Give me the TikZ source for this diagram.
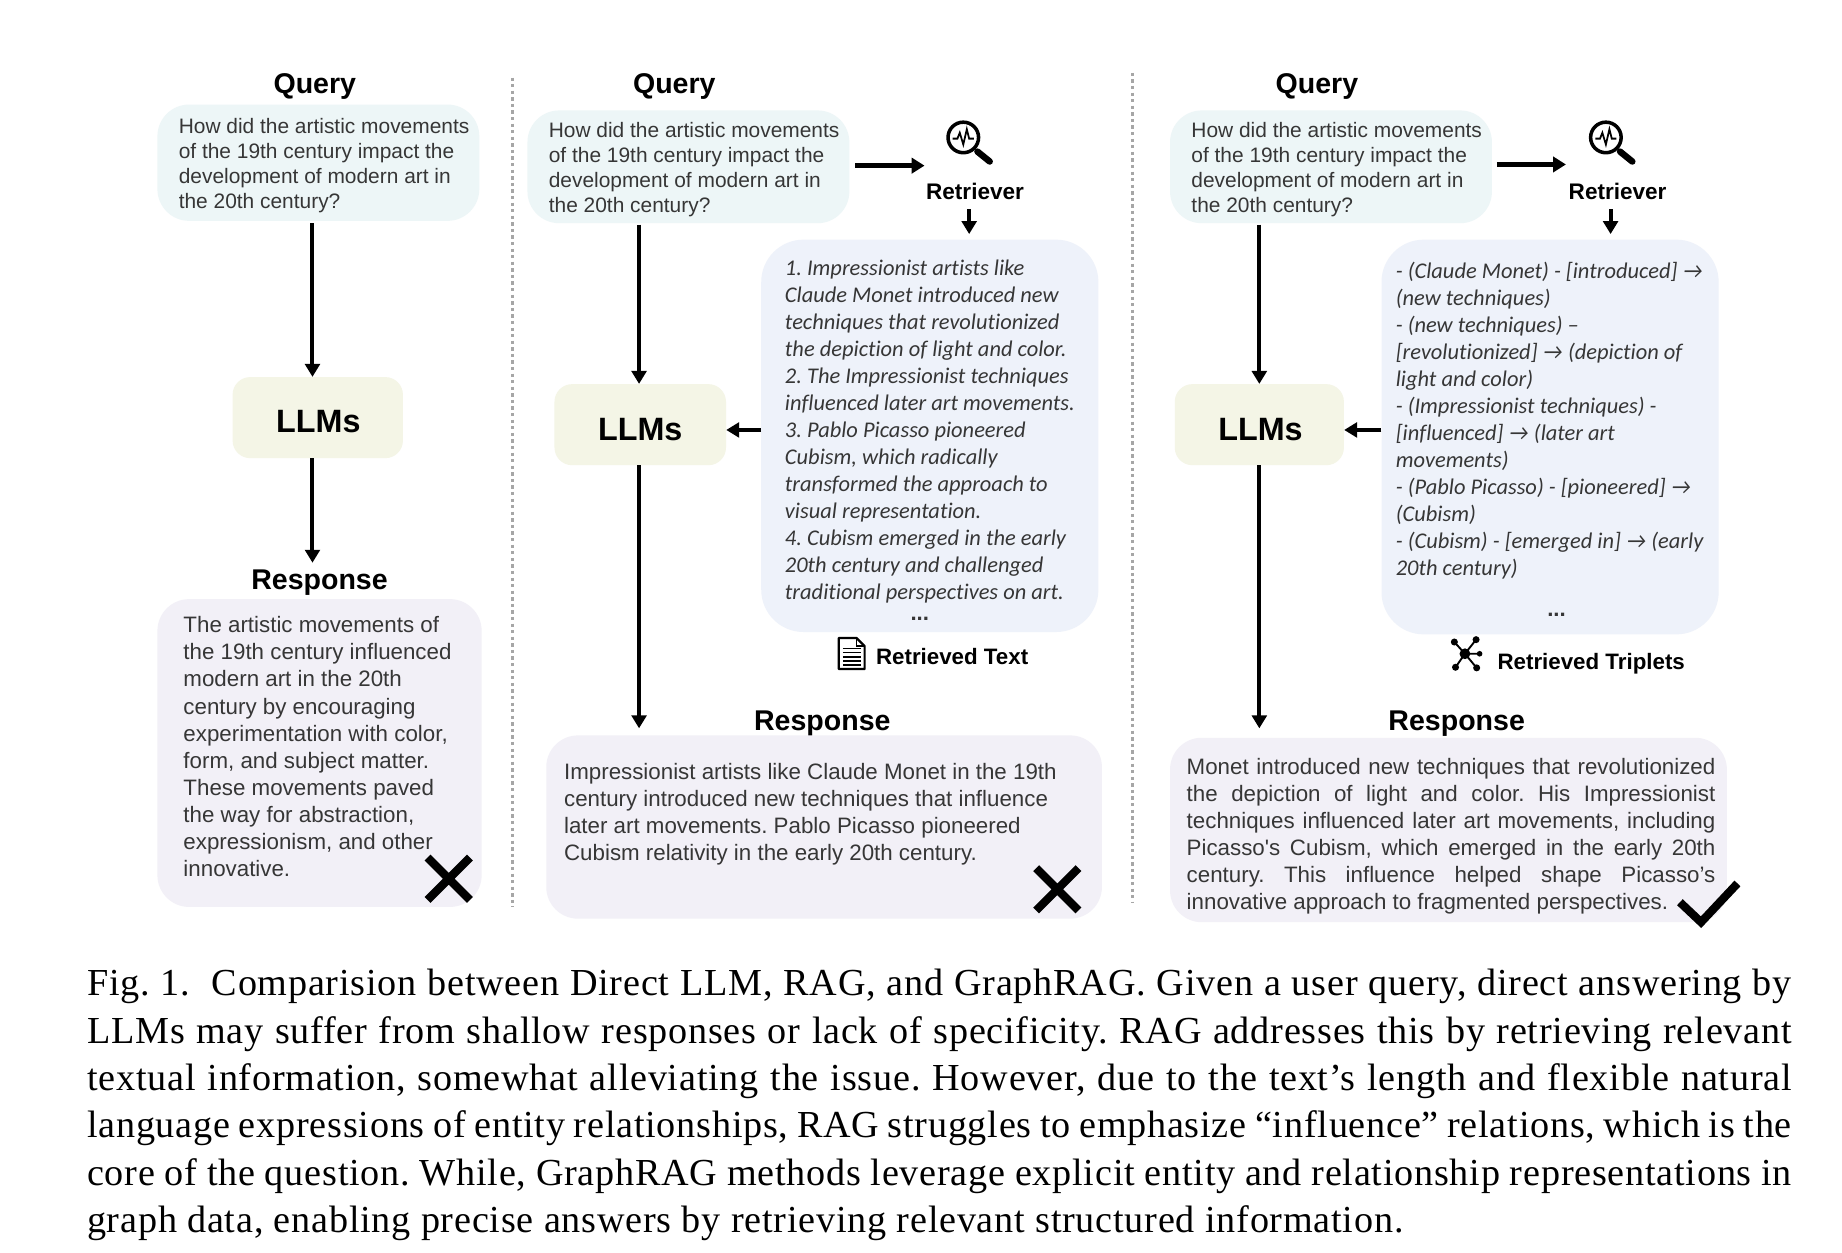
\documentclass[tikz,border=0pt]{standalone}
\usepackage{fontspec}
\usetikzlibrary{arrows.meta}
\setmainfont[LetterSpace=2]{Liberation Serif}
\newfontfamily\arial{Liberation Sans}
\newfontfamily\calib[Ligatures=NoCommon]{Carlito}
\AtBeginDocument{\frenchspacing}
\definecolor{qfill}{HTML}{EDF6F7}
\definecolor{lfill}{HTML}{F4F5E6}
\definecolor{tfill}{HTML}{EEF2FA}
\definecolor{rfill}{HTML}{F2F0F7}
\definecolor{ink}{HTML}{363636}
\tikzset{
  bx/.style={rectangle,inner sep=0pt,draw=none},
  qbox/.style={bx,fill=qfill,rounded corners=27pt,minimum width=274pt},
  lbox/.style={bx,fill=lfill,rounded corners=15pt,minimum height=69pt},
  tbox/.style={bx,fill=tfill,rounded corners=36pt,minimum width=287pt},
  rbox/.style={bx,fill=rfill,rounded corners=27pt},
  ttl/.style={inner sep=0pt,yshift=-2.6pt,font=\arial\bfseries\fontsize{24.3}{28}\selectfont,text=black},
  llm/.style={inner sep=0pt,font=\arial\bfseries\fontsize{27.5}{30}\selectfont,text=black},
  smalll/.style={inner sep=0pt,font=\arial\bfseries\fontsize{19}{22}\selectfont,text=black},
  retr/.style={inner sep=0pt,font=\arial\bfseries\fontsize{19.2}{24}\selectfont,text=black},
  qtxt/.style={inner sep=0pt,anchor=west,align=left,text=ink,font=\arial\fontsize{17.8}{21.3}\selectfont},
  rtxt/.style={inner sep=0pt,anchor=west,align=left,text=ink,font=\arial\fontsize{19}{23}\selectfont},
  itxt/.style={inner sep=0pt,anchor=west,align=left,text=ink,font=\calib\itshape\fontsize{19.1}{23}\selectfont},
  dots/.style={inner sep=0pt,text=ink,font=\arial\bfseries\fontsize{19}{20}\selectfont},
  arr/.style={line width=3.4pt,-{Triangle[width=12.5pt,length=11pt]}},
  arrb/.style={line width=4pt,-{Triangle[width=13pt,length=11pt]}},
  sepl/.style={line width=2.8pt,color=black!35,dash pattern=on 2.8pt off 2.8pt},
  xmark/.style={line width=7pt,line cap=butt,miter limit=10},
  icon/.style={line width=2.6pt,black},
}
\newcommand{\magicon}[2]{%
  \draw[icon,line width=3pt] (#1,#2) circle (13pt);
  \draw[black,line width=5.5pt,line cap=round] (#1+12,#2+12) -- (#1+22.5,#2+20.5);
  \draw[black,line width=1.5pt] (#1-9,#2+1) -- (#1-5,#2+1) -- (#1-3,#2-4) -- (#1,#2+6) -- (#1+3,#2-7) -- (#1+5,#2+1) -- (#1+9,#2+1);
}
\begin{document}
\begin{tikzpicture}[x=1pt,y=-1pt]
\useasboundingbox (0,0) rectangle (1568,1065.8);
\fill[white] (0,0) rectangle (1568,1065.8);
% separators
\coordinate (s1a) at (436,66); \coordinate (s1b) at (436,772);
\coordinate (s2a) at (964,62); \coordinate (s2b) at (964,768);
\draw[sepl] (s1a) -- (s1b);
\draw[sepl] (s2a) -- (s2b);

% ---------- panel 1
\node[ttl] (qt1) at (268,71) {Query};
\node[qbox,minimum height=99pt] (q1) at (271,138.5) {};
\node[qtxt] (q1t) at (152,141) {How did the artistic movements\\of the 19th century impact the\\development of modern art in\\the 20th century?};
\node[lbox,minimum width=145pt] (l1) at (270.5,355.5) {};
\node[llm] (l1t) at (271,359) {LLMs};
\node[ttl] (rt1) at (272,493) {Response};
\node[rbox,minimum width=276pt,minimum height=262pt] (r1) at (272,641) {};
\node[rtxt] (r1t) at (156,635.5) {The artistic movements of\\the 19th century influenced\\modern art in the 20th\\century by encouraging\\experimentation with color,\\form, and subject matter.\\These movements paved\\the way for abstraction,\\expressionism, and other\\innovative.};
\coordinate (a1) at (266,0);
\coordinate (e1) at (266,479);
\draw[arr] (q1.south -| a1) ++(0,2) -- (l1.north -| a1);
\draw[arr] (l1.south -| a1) -- (e1);
\draw[xmark] (364,730) -- (400,766) (400,730) -- (364,766);

% ---------- panel 2
\node[ttl] (qt2) at (574,71) {Query};
\node[qbox,minimum height=96pt] (q2) at (586,142) {};
\node[qtxt] (q2t) at (467,144) {How did the artistic movements\\of the 19th century impact the\\development of modern art in\\the 20th century?};
\node[lbox,minimum width=146pt] (l2) at (545,361.5) {};
\node[llm] (l2t) at (545,365.5) {LLMs};
\node[retr] (re2) at (830,163) {Retriever};
\magicon{820}{117}
\coordinate (m2) at (787,141);
\coordinate (a2) at (825,0);
\draw[arrb] (q2.east |- m2) ++(5,0) -- (m2);
\node[tbox,minimum height=334pt] (t2) at (791.5,371) {};
\draw[arr] (re2.south -| a2) ++(0,8) -- ++(0,21);
\node[itxt] (t2t) at (668,367) {1. Impressionist artists like\\Claude Monet introduced new\\techniques that revolutionized\\the depiction of light and color.\\2. The Impressionist techniques\\influenced later art movements.\\3. Pablo Picasso pioneered\\Cubism, which radically\\transformed the approach to\\visual representation.\\4. Cubism emerged in the early\\20th century and challenged\\traditional perspectives on art.};
\node[dots] (t2d) at (783,527) {...};
\coordinate (b2) at (0,366);
\draw[arr] (t2.west |- b2) -- (l2.east |- b2);
\coordinate (a3) at (544,0);
\coordinate (e2) at (544,620);
\draw[arr] (q2.south -| a3) ++(0,1) -- (l2.north -| a3);
\draw[arr] (l2.south -| a3) -- (e2);
% document icon
\draw[black,line width=1.9pt,line join=round] (714,543) -- (729,543) -- (736,550) -- (736,569.5) -- (714,569.5) -- cycle;
\draw[black,line width=1.4pt] (729,543) -- (729,550) -- (736,550);
\draw[black,line width=1.5pt] (717.5,552) -- (732.5,552) (717.5,555.5) -- (732.5,555.5) (717.5,559) -- (732.5,559) (717.5,562.5) -- (732.5,562.5) (717.5,566) -- (732.5,566);
\node[smalll] (rtx) at (810.5,558.5) {Retrieved Text};
\node[ttl] (rt2) at (700,613) {Response};
\node[rbox,minimum width=473pt,minimum height=156pt] (r2) at (701.5,704) {};
\node[rtxt] (r2t) at (480,693.3) {Impressionist artists like Claude Monet in the 19th\\century introduced new techniques that influence\\later art movements. Pablo Picasso pioneered\\Cubism relativity in the early 20th century.};
\draw[xmark] (882,739) -- (918,775) (918,739) -- (882,775);

% ---------- panel 3
\node[ttl] (qt3) at (1121,71) {Query};
\node[qbox,minimum height=96pt] (q3) at (1133,142) {};
\node[qtxt] (q3t) at (1014,144) {How did the artistic movements\\of the 19th century impact the\\development of modern art in\\the 20th century?};
\node[lbox,minimum width=144pt] (l3) at (1072,361.5) {};
\node[llm] (l3t) at (1073,365.5) {LLMs};
\node[retr] (re3) at (1377,163) {Retriever};
\magicon{1367}{117}
\coordinate (m3) at (1333,140);
\coordinate (a4) at (1371,0);
\draw[arrb] (q3.east |- m3) ++(4,0) -- (m3);
\node[tbox,minimum height=336pt] (t3) at (1319.5,372) {};
\draw[arr] (re3.south -| a4) ++(0,8) -- ++(0,21);
\node[itxt] (t3t) at (1188,357.8) {- (Claude Monet) - [introduced] →\\(new techniques)\\- (new techniques) –\\{}[revolutionized] → (depiction of\\light and color)\\- (Impressionist techniques) -\\{}[influenced] → (later art\\movements)\\- (Pablo Picasso) - [pioneered] →\\(Cubism)\\- (Cubism) - [emerged in] → (early\\20th century)};
\node[dots] (t3d) at (1325,523) {...};
\coordinate (b3) at (0,366);
\draw[arr] (t3.west |- b3) -- (l3.east |- b3);
\coordinate (a5) at (1072,0);
\coordinate (e3) at (1072,620);
\draw[arr] (q3.south -| a5) ++(0,1) -- (l3.north -| a5);
\draw[arr] (l3.south -| a5) -- (e3);
% network icon
\fill[black] (1247,556.5) circle (4.6pt) (1238,546.5) circle (3pt) (1256.5,544.5) circle (3pt) (1259.5,556.5) circle (2.4pt) (1239,568) circle (3pt) (1257,568.5) circle (3pt);
\draw[black,line width=1.6pt] (1247,556.5) -- (1238,546.5) (1247,556.5) -- (1256.5,544.5) (1247,556.5) -- (1259.5,556.5) (1247,556.5) -- (1239,568) (1247,556.5) -- (1257,568.5);
\node[smalll] (rtr) at (1354.5,565) {Retrieved Triplets};
\node[ttl] (rt3) at (1240,613) {Response};
\node[rbox,minimum width=474pt,minimum height=157pt] (r3) at (1233,706.5) {};
\node[rtxt,text width=450pt,align=justify] (r3t) at (1010,711.5) {Monet introduced new techniques that revolutionized\linebreak the depiction of light and color. His Impressionist\linebreak techniques influenced later art movements, including\linebreak Picasso's Cubism, which emerged in the early 20th\linebreak century. This influence helped shape Picasso’s\linebreak innovative approach to fragmented perspectives.};
\draw[xmark] (1430,768) -- (1448,785) -- (1479,752);

% ---------- caption
\node[inner sep=0pt,anchor=north west,text width=1451pt,align=justify,text=black,font=\fontsize{32.5}{40.3}\selectfont] (cap) at (74,825) {Fig. 1.\ \ Comparision between Direct LLM, RAG, and GraphRAG. Given a user query, direct answering by\linebreak LLMs may suffer from shallow responses or lack of specificity. RAG addresses this by retrieving relevant\linebreak textual information, somewhat alleviating the issue. However, due to the text’s length and flexible natural\linebreak language expressions of entity relationships, RAG struggles to emphasize “influence” relations, which is the\linebreak core of the question. While, GraphRAG methods leverage explicit entity and relationship representations in\linebreak graph data, enabling precise answers by retrieving relevant structured information.};
\end{tikzpicture}
\end{document}
